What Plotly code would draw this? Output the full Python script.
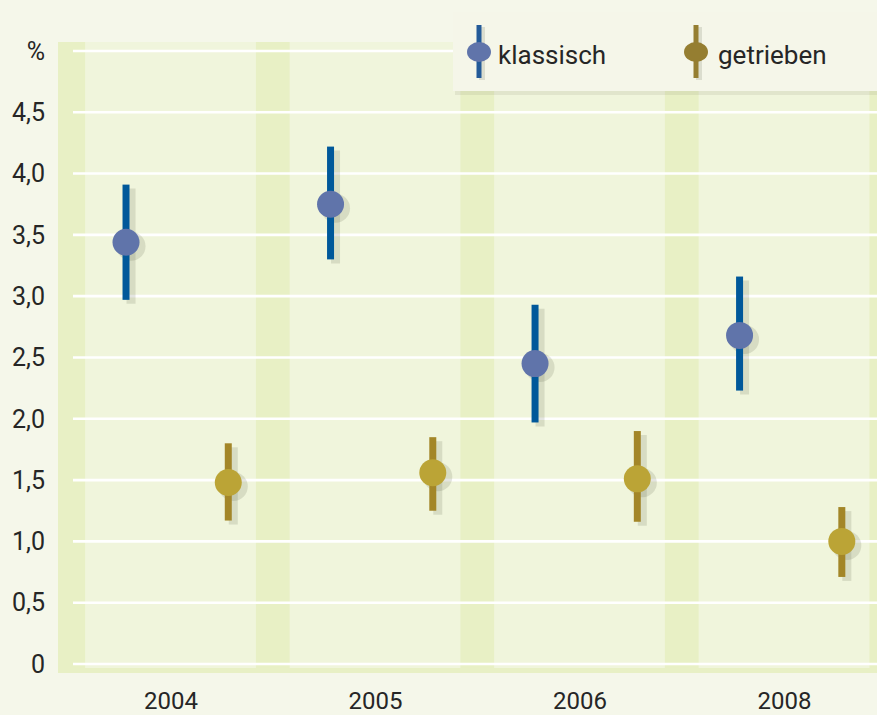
import plotly.graph_objects as go

# ---- data ----
years = ["2004", "2005", "2006", "2008"]
klassisch = [3.44, 3.75, 2.45, 2.68]
klassisch_hi = [3.91, 4.22, 2.93, 3.16]
klassisch_lo = [2.97, 3.30, 1.97, 2.23]
getrieben = [1.48, 1.56, 1.51, 1.00]
getrieben_hi = [1.80, 1.85, 1.90, 1.28]
getrieben_lo = [1.17, 1.25, 1.16, 0.71]
y_ticks = [0, 0.5, 1.0, 1.5, 2.0, 2.5, 3.0, 3.5, 4.0, 4.5, 5.0]
y_ticktext = ["0", "0,5", "1,0", "1,5", "2,0", "2,5", "3,0", "3,5", "4,0", "4,5", "%"]

# ---- layout constants ----
W, H = 877, 715
L, R, T, B = 58, 0, 42, 42
PW, PH = W - L - R, H - T - B
XR = [-0.5526, 3.452]
YR = [-0.0734, 5.073]
XU = PW / (XR[1] - XR[0])
YU = PH / (YR[1] - YR[0])
OFF_K, OFF_G = -0.22, 0.28

def px(x):
    return (x - L) / PW

def py(y):
    return (H - B - y) / PH

BG = "#f5f7ea"
BAND = "#e8f0c5"
PANEL = "#f0f5dc"
K_MARK, K_ERR = "#6074aa", "#00589a"
G_MARK, G_ERR = "#bba436", "#a38628"
SHADOW = "rgba(90,95,70,0.16)"
TXT = "#262626"
FONT = "Roboto"

idx = list(range(len(years)))
xk = [i + OFF_K for i in idx]
xg = [i + OFF_G for i in idx]

def errs(v, hi, lo):
    return [h - a for a, h in zip(v, hi)], [a - l for a, l in zip(v, lo)]

k_plus, k_minus = errs(klassisch, klassisch_hi, klassisch_lo)
g_plus, g_minus = errs(getrieben, getrieben_hi, getrieben_lo)

fig = go.Figure()

# shadows on base axes (shifted ranges)
for xs, ys, p, m in [(xk, klassisch, k_plus, k_minus), (xg, getrieben, g_plus, g_minus)]:
    fig.add_trace(go.Scatter(
        x=xs, y=ys, mode="markers", xaxis="x", yaxis="y",
        marker=dict(size=29, color=SHADOW, line=dict(width=0)),
        error_y=dict(type="data", symmetric=False, array=p, arrayminus=m,
                     color=SHADOW, thickness=9, width=0),
        showlegend=False, hoverinfo="skip"))

# main series on overlay axes
fig.add_trace(go.Scatter(
    x=xk, y=klassisch, mode="markers", name="klassisch", xaxis="x2", yaxis="y2",
    marker=dict(size=27, color=K_MARK, line=dict(width=0)),
    error_y=dict(type="data", symmetric=False, array=k_plus, arrayminus=k_minus,
                 color=K_ERR, thickness=7, width=0),
    showlegend=False))
fig.add_trace(go.Scatter(
    x=xg, y=getrieben, mode="markers", name="getrieben", xaxis="x2", yaxis="y2",
    marker=dict(size=27, color=G_MARK, line=dict(width=0)),
    error_y=dict(type="data", symmetric=False, array=g_plus, arrayminus=g_minus,
                 color=G_ERR, thickness=7, width=0),
    showlegend=False))

shapes = []
# light panels
for i in idx:
    shapes.append(dict(type="rect", xref="x2", yref="paper", x0=i - 0.42, x1=i + 0.415,
                       y0=py(668), y1=1, fillcolor=PANEL, line=dict(width=0), layer="below"))
# gridlines
for v in y_ticks:
    shapes.append(dict(type="line", xref="paper", yref="y2", x0=px(73), x1=1, y0=v, y1=v,
                       line=dict(color="white", width=2.6), layer="below"))
# legend box shadow + box
shapes.append(dict(type="rect", xref="paper", yref="paper", x0=px(455), x1=px(880),
                   y0=py(95), y1=py(14), fillcolor="rgba(120,120,100,0.13)",
                   line=dict(width=0), layer="above"))
shapes.append(dict(type="rect", xref="paper", yref="paper", x0=px(453), x1=px(880),
                   y0=py(91), y1=py(12), fillcolor="#f5f6e9",
                   line=dict(width=0), layer="above"))
# legend glyphs
for cx, lc, mc in [(479, "#235a98", K_MARK), (696, "#957e31", "#957e31")]:
    shapes.append(dict(type="line", xref="paper", yref="paper", x0=px(cx + 3), x1=px(cx + 3),
                       y0=py(80), y1=py(27), line=dict(color=SHADOW, width=6), layer="above"))
    shapes.append(dict(type="line", xref="paper", yref="paper", x0=px(cx), x1=px(cx),
                       y0=py(78), y1=py(25), line=dict(color=lc, width=5), layer="above"))
    shapes.append(dict(type="circle", xref="paper", yref="paper", x0=px(cx - 12), x1=px(cx + 12),
                       y0=py(62), y1=py(42), fillcolor=mc, line=dict(width=0), layer="above"))

annotations = [
    dict(text="klassisch", xref="paper", yref="paper", x=px(496), y=py(55),
         xanchor="left", yanchor="middle", showarrow=False,
         font=dict(family=FONT, size=26, color=TXT)),
    dict(text="getrieben", xref="paper", yref="paper", x=px(716), y=py(55),
         xanchor="left", yanchor="middle", showarrow=False,
         font=dict(family=FONT, size=26, color=TXT)),
]

sx = 5 / XU
sy = 4 / YU
fig.update_layout(
    width=W, height=H,
    margin=dict(l=L, r=R, t=T, b=B, pad=0, autoexpand=False),
    paper_bgcolor=BG, plot_bgcolor=BAND,
    font=dict(family=FONT, size=25, color=TXT),
    xaxis=dict(range=[XR[0] - sx, XR[1] - sx], visible=False, fixedrange=True),
    yaxis=dict(range=[YR[0] + sy, YR[1] + sy], visible=False, fixedrange=True),
    xaxis2=dict(range=XR, overlaying="x", side="bottom", tickmode="array",
                tickvals=idx, ticktext=years, showgrid=False, zeroline=False,
                showline=False, ticks="", ticklabelstandoff=11, automargin=False,
                tickfont=dict(family=FONT, size=24, color=TXT)),
    yaxis2=dict(range=YR, overlaying="y", side="left", tickmode="array",
                tickvals=y_ticks, ticktext=y_ticktext, showgrid=False, zeroline=False,
                showline=False, ticks="", ticklabelstandoff=12, automargin=False,
                tickfont=dict(family=FONT, size=25, color=TXT)),
    shapes=shapes, annotations=annotations, showlegend=False,
)

fig.write_html(
    "out.html",
    config={"displayModeBar": False},
    post_script="document.body.style.margin='0';document.body.style.overflow='hidden';",
)
